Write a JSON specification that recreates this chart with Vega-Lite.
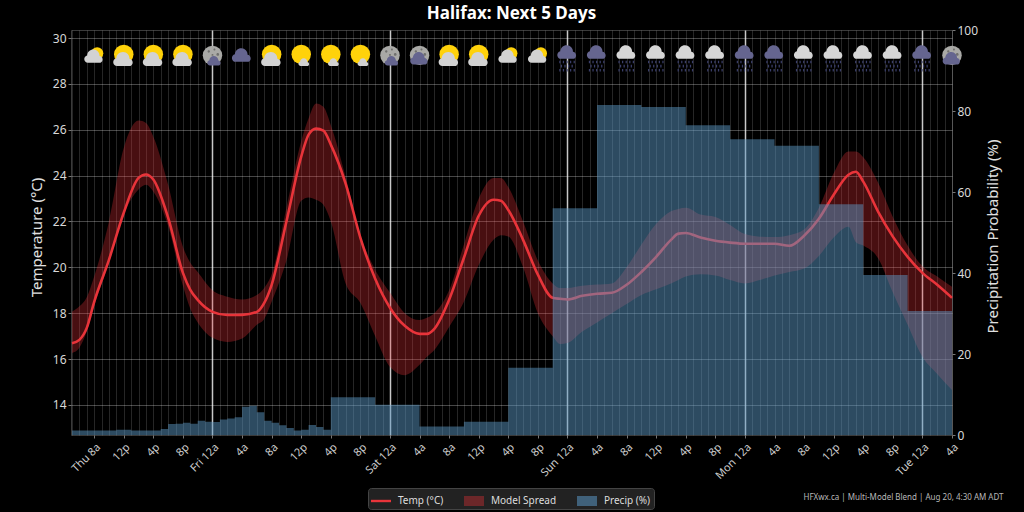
{
  "$schema": "https://vega.github.io/schema/vega-lite/v6.json",
  "title": {"text": "Halifax: Next 5 Days", "fontSize": 17, "fontWeight": "bold", "font": "Noto Sans", "color": "#ffffff", "offset": 1},
  "width": 881,
  "height": 405,
  "autosize": "none",
  "padding": {"left": 71, "right": 72, "top": 30, "bottom": 77},
  "background": "#000000",
  "datasets": {
    "temps": [
      {"time": "2025-08-21T05:00:00Z", "temp": 16.69, "lo": 16.27, "hi": 18.06},
      {"time": "2025-08-21T06:00:00Z", "temp": 16.84, "lo": 16.5, "hi": 18.3},
      {"time": "2025-08-21T07:00:00Z", "temp": 17.36, "lo": 17.2, "hi": 18.7},
      {"time": "2025-08-21T08:00:00Z", "temp": 18.5, "lo": 18.3, "hi": 19.6},
      {"time": "2025-08-21T10:00:00Z", "temp": 20.33, "lo": 20.2, "hi": 22.0},
      {"time": "2025-08-21T12:00:00Z", "temp": 22.38, "lo": 22.3, "hi": 25.2},
      {"time": "2025-08-21T14:00:00Z", "temp": 23.9, "lo": 23.4, "hi": 26.4},
      {"time": "2025-08-21T15:00:00Z", "temp": 24.05, "lo": 23.6, "hi": 26.3},
      {"time": "2025-08-21T16:00:00Z", "temp": 23.83, "lo": 23.3, "hi": 25.7},
      {"time": "2025-08-21T18:00:00Z", "temp": 22.17, "lo": 21.8, "hi": 23.6},
      {"time": "2025-08-21T20:00:00Z", "temp": 19.76, "lo": 19.2, "hi": 20.9},
      {"time": "2025-08-21T21:00:00Z", "temp": 19.02, "lo": 18.2, "hi": 20.2},
      {"time": "2025-08-21T22:00:00Z", "temp": 18.58, "lo": 17.6, "hi": 19.8},
      {"time": "2025-08-22T00:00:00Z", "temp": 18.06, "lo": 16.93, "hi": 19.0},
      {"time": "2025-08-22T02:00:00Z", "temp": 17.92, "lo": 16.75, "hi": 18.72},
      {"time": "2025-08-22T04:00:00Z", "temp": 17.93, "lo": 16.9, "hi": 18.6},
      {"time": "2025-08-22T06:00:00Z", "temp": 18.06, "lo": 17.5, "hi": 18.8},
      {"time": "2025-08-22T07:00:00Z", "temp": 18.45, "lo": 17.75, "hi": 19.1},
      {"time": "2025-08-22T08:00:00Z", "temp": 19.24, "lo": 18.5, "hi": 19.7},
      {"time": "2025-08-22T10:00:00Z", "temp": 22.0, "lo": 20.3, "hi": 22.6},
      {"time": "2025-08-22T12:00:00Z", "temp": 24.83, "lo": 22.9, "hi": 25.5},
      {"time": "2025-08-22T13:00:00Z", "temp": 25.79, "lo": 23.05, "hi": 26.5},
      {"time": "2025-08-22T14:00:00Z", "temp": 26.05, "lo": 22.95, "hi": 27.15},
      {"time": "2025-08-22T15:00:00Z", "temp": 25.96, "lo": 22.73, "hi": 27.0},
      {"time": "2025-08-22T16:00:00Z", "temp": 25.35, "lo": 22.0, "hi": 26.2},
      {"time": "2025-08-22T18:00:00Z", "temp": 23.65, "lo": 19.3, "hi": 23.95},
      {"time": "2025-08-22T20:00:00Z", "temp": 21.29, "lo": 18.45, "hi": 21.4},
      {"time": "2025-08-22T22:00:00Z", "temp": 19.5, "lo": 17.0, "hi": 19.9},
      {"time": "2025-08-23T00:00:00Z", "temp": 18.24, "lo": 15.66, "hi": 18.9},
      {"time": "2025-08-23T02:00:00Z", "temp": 17.45, "lo": 15.3, "hi": 18.0},
      {"time": "2025-08-23T04:00:00Z", "temp": 17.1, "lo": 15.75, "hi": 17.7},
      {"time": "2025-08-23T05:00:00Z", "temp": 17.1, "lo": 16.1, "hi": 17.8},
      {"time": "2025-08-23T06:00:00Z", "temp": 17.32, "lo": 16.4, "hi": 18.0},
      {"time": "2025-08-23T08:00:00Z", "temp": 18.59, "lo": 17.4, "hi": 19.0},
      {"time": "2025-08-23T10:00:00Z", "temp": 20.42, "lo": 18.5, "hi": 21.0},
      {"time": "2025-08-23T12:00:00Z", "temp": 22.25, "lo": 20.1, "hi": 23.0},
      {"time": "2025-08-23T14:00:00Z", "temp": 22.95, "lo": 21.2, "hi": 23.9},
      {"time": "2025-08-23T15:00:00Z", "temp": 22.9, "lo": 21.4, "hi": 23.9},
      {"time": "2025-08-23T16:00:00Z", "temp": 22.5, "lo": 21.35, "hi": 23.5},
      {"time": "2025-08-23T18:00:00Z", "temp": 21.2, "lo": 20.0, "hi": 22.0},
      {"time": "2025-08-23T20:00:00Z", "temp": 19.68, "lo": 18.0, "hi": 20.3},
      {"time": "2025-08-23T22:00:00Z", "temp": 18.67, "lo": 17.0, "hi": 19.3},
      {"time": "2025-08-23T23:00:00Z", "temp": 18.63, "lo": 16.66, "hi": 19.1},
      {"time": "2025-08-24T00:00:00Z", "temp": 18.6, "lo": 16.7, "hi": 19.1},
      {"time": "2025-08-24T02:00:00Z", "temp": 18.76, "lo": 17.2, "hi": 19.2},
      {"time": "2025-08-24T04:00:00Z", "temp": 18.85, "lo": 17.6, "hi": 19.25},
      {"time": "2025-08-24T06:00:00Z", "temp": 18.89, "lo": 18.0, "hi": 19.3},
      {"time": "2025-08-24T08:00:00Z", "temp": 19.24, "lo": 18.4, "hi": 20.0},
      {"time": "2025-08-24T10:00:00Z", "temp": 19.8, "lo": 18.8, "hi": 21.0},
      {"time": "2025-08-24T12:00:00Z", "temp": 20.46, "lo": 19.05, "hi": 21.9},
      {"time": "2025-08-24T14:00:00Z", "temp": 21.2, "lo": 19.3, "hi": 22.45},
      {"time": "2025-08-24T15:00:00Z", "temp": 21.47, "lo": 19.45, "hi": 22.55},
      {"time": "2025-08-24T16:00:00Z", "temp": 21.5, "lo": 19.6, "hi": 22.6},
      {"time": "2025-08-24T18:00:00Z", "temp": 21.3, "lo": 19.7, "hi": 22.3},
      {"time": "2025-08-24T20:00:00Z", "temp": 21.16, "lo": 19.65, "hi": 22.2},
      {"time": "2025-08-24T22:00:00Z", "temp": 21.08, "lo": 19.45, "hi": 21.85},
      {"time": "2025-08-25T00:00:00Z", "temp": 21.03, "lo": 19.3, "hi": 21.45},
      {"time": "2025-08-25T02:00:00Z", "temp": 21.03, "lo": 19.45, "hi": 21.34},
      {"time": "2025-08-25T04:00:00Z", "temp": 21.03, "lo": 19.65, "hi": 21.32},
      {"time": "2025-08-25T06:00:00Z", "temp": 20.94, "lo": 19.8, "hi": 21.4},
      {"time": "2025-08-25T08:00:00Z", "temp": 21.38, "lo": 19.95, "hi": 21.65},
      {"time": "2025-08-25T10:00:00Z", "temp": 22.12, "lo": 20.5, "hi": 22.6},
      {"time": "2025-08-25T12:00:00Z", "temp": 23.17, "lo": 21.3, "hi": 24.1},
      {"time": "2025-08-25T14:00:00Z", "temp": 24.04, "lo": 21.77, "hi": 25.05},
      {"time": "2025-08-25T15:00:00Z", "temp": 24.17, "lo": 21.1, "hi": 25.05},
      {"time": "2025-08-25T16:00:00Z", "temp": 23.74, "lo": 20.95, "hi": 24.8},
      {"time": "2025-08-25T18:00:00Z", "temp": 22.43, "lo": 20.4, "hi": 23.7},
      {"time": "2025-08-25T20:00:00Z", "temp": 21.34, "lo": 18.9, "hi": 22.2},
      {"time": "2025-08-25T22:00:00Z", "temp": 20.46, "lo": 17.5, "hi": 20.95},
      {"time": "2025-08-26T00:00:00Z", "temp": 19.76, "lo": 16.1, "hi": 20.05},
      {"time": "2025-08-26T02:00:00Z", "temp": 19.24, "lo": 15.35, "hi": 19.6},
      {"time": "2025-08-26T04:00:00Z", "temp": 18.67, "lo": 14.65, "hi": 19.15}
    ],
    "precip": [
      {"time": "2025-08-21T05:00:00Z", "pop": 1.1},
      {"time": "2025-08-21T11:00:00Z", "pop": 1.3},
      {"time": "2025-08-21T13:00:00Z", "pop": 1.1},
      {"time": "2025-08-21T17:00:00Z", "pop": 1.5},
      {"time": "2025-08-21T18:00:00Z", "pop": 2.7},
      {"time": "2025-08-21T19:00:00Z", "pop": 2.8},
      {"time": "2025-08-21T20:00:00Z", "pop": 3.0},
      {"time": "2025-08-21T21:00:00Z", "pop": 2.8},
      {"time": "2025-08-21T22:00:00Z", "pop": 3.5},
      {"time": "2025-08-21T23:00:00Z", "pop": 3.3},
      {"time": "2025-08-22T00:00:00Z", "pop": 3.2},
      {"time": "2025-08-22T01:00:00Z", "pop": 3.8},
      {"time": "2025-08-22T02:00:00Z", "pop": 4.1},
      {"time": "2025-08-22T03:00:00Z", "pop": 4.4},
      {"time": "2025-08-22T04:00:00Z", "pop": 7.0},
      {"time": "2025-08-22T05:00:00Z", "pop": 7.2},
      {"time": "2025-08-22T06:00:00Z", "pop": 5.6},
      {"time": "2025-08-22T07:00:00Z", "pop": 3.5},
      {"time": "2025-08-22T08:00:00Z", "pop": 3.0},
      {"time": "2025-08-22T09:00:00Z", "pop": 2.4},
      {"time": "2025-08-22T10:00:00Z", "pop": 1.7},
      {"time": "2025-08-22T11:00:00Z", "pop": 1.1},
      {"time": "2025-08-22T12:00:00Z", "pop": 1.3},
      {"time": "2025-08-22T13:00:00Z", "pop": 2.5},
      {"time": "2025-08-22T14:00:00Z", "pop": 2.0},
      {"time": "2025-08-22T15:00:00Z", "pop": 1.3},
      {"time": "2025-08-22T16:00:00Z", "pop": 9.3},
      {"time": "2025-08-22T22:00:00Z", "pop": 7.5},
      {"time": "2025-08-23T04:00:00Z", "pop": 2.1},
      {"time": "2025-08-23T10:00:00Z", "pop": 3.3},
      {"time": "2025-08-23T16:00:00Z", "pop": 16.6},
      {"time": "2025-08-23T22:00:00Z", "pop": 56},
      {"time": "2025-08-24T04:00:00Z", "pop": 81.5},
      {"time": "2025-08-24T10:00:00Z", "pop": 81},
      {"time": "2025-08-24T16:00:00Z", "pop": 76.5},
      {"time": "2025-08-24T22:00:00Z", "pop": 73},
      {"time": "2025-08-25T04:00:00Z", "pop": 71.4},
      {"time": "2025-08-25T10:00:00Z", "pop": 57},
      {"time": "2025-08-25T16:00:00Z", "pop": 39.5},
      {"time": "2025-08-25T22:00:00Z", "pop": 30.6},
      {"time": "2025-08-26T04:00:00Z", "pop": 30.6}
    ],
    "icons": [
      {"time": "2025-08-21T08:00:00Z", "icon": "cloud_sun"},
      {"time": "2025-08-21T12:00:00Z", "icon": "partly"},
      {"time": "2025-08-21T16:00:00Z", "icon": "partly"},
      {"time": "2025-08-21T20:00:00Z", "icon": "partly"},
      {"time": "2025-08-22T00:00:00Z", "icon": "moon_cloud"},
      {"time": "2025-08-22T04:00:00Z", "icon": "night_cloud"},
      {"time": "2025-08-22T08:00:00Z", "icon": "partly"},
      {"time": "2025-08-22T12:00:00Z", "icon": "mostly_sun"},
      {"time": "2025-08-22T16:00:00Z", "icon": "mostly_sun"},
      {"time": "2025-08-22T20:00:00Z", "icon": "mostly_sun"},
      {"time": "2025-08-23T00:00:00Z", "icon": "moon_cloud"},
      {"time": "2025-08-23T04:00:00Z", "icon": "moon_heavy"},
      {"time": "2025-08-23T08:00:00Z", "icon": "partly"},
      {"time": "2025-08-23T12:00:00Z", "icon": "partly"},
      {"time": "2025-08-23T16:00:00Z", "icon": "cloud_sun"},
      {"time": "2025-08-23T20:00:00Z", "icon": "cloud_sun"},
      {"time": "2025-08-24T00:00:00Z", "icon": "rain_night"},
      {"time": "2025-08-24T04:00:00Z", "icon": "rain_night"},
      {"time": "2025-08-24T08:00:00Z", "icon": "rain"},
      {"time": "2025-08-24T12:00:00Z", "icon": "rain"},
      {"time": "2025-08-24T16:00:00Z", "icon": "rain"},
      {"time": "2025-08-24T20:00:00Z", "icon": "rain"},
      {"time": "2025-08-25T00:00:00Z", "icon": "rain_night"},
      {"time": "2025-08-25T04:00:00Z", "icon": "rain_night"},
      {"time": "2025-08-25T08:00:00Z", "icon": "rain"},
      {"time": "2025-08-25T12:00:00Z", "icon": "rain"},
      {"time": "2025-08-25T16:00:00Z", "icon": "rain"},
      {"time": "2025-08-25T20:00:00Z", "icon": "rain"},
      {"time": "2025-08-26T00:00:00Z", "icon": "rain_night"},
      {"time": "2025-08-26T04:00:00Z", "icon": "moon_heavy"}
    ]
  },
  "resolve": {
    "scale": {"y": "independent"},
    "axis": {"x": "independent", "y": "independent"}
  },
  "layer": [
    {
      "data": {"name": "temps"},
      "mark": {"type": "area", "interpolate": "monotone", "opacity": 0.3},
      "encoding": {
        "x": {
          "field": "time",
          "type": "temporal",
          "scale": {"type": "utc", "domain": [1755751920000, 1756180800000]},
          "axis": {
            "orient": "bottom",
            "grid": true, "gridColor": "#ffffff", "gridOpacity": 0.15, "gridWidth": 1,
            "tickCount": 120,
            "labels": false, "ticks": false, "domain": false, "title": null
          }
        },
        "y": {
          "field": "lo",
          "type": "quantitative",
          "scale": {"domain": [12.69, 30.35], "nice": false, "zero": false},
          "axis": {
            "orient": "left",
            "values": [14, 16, 18, 20, 22, 24, 26, 28, 30],
            "grid": true, "gridColor": "#ffffff", "gridOpacity": 0.28,
            "domain": false, "tickColor": "#777777", "tickSize": 3,
            "labelColor": "#d8d8d8", "labelFontSize": 12, "labelFont": "Noto Sans", "labelPadding": 2,
            "title": "Temperature (°C)", "titleColor": "#e0e0e0", "titleFontSize": 15,
            "titleFontWeight": "normal", "titleFont": "Noto Sans", "titlePadding": 8, "titleY": 207
          }
        },
        "y2": {"field": "hi"},
        "color": {
          "datum": "Model Spread",
          "type": "nominal",
          "scale": {
            "domain": ["Temp (°C)", "Model Spread", "Precip (%)"],
            "range": ["#e8343a", "#f03237", "#5a96c2"]
          },
          "legend": {
            "title": null,
            "orient": "none",
            "legendX": 297,
            "legendY": 458,
            "direction": "horizontal",
            "columns": 3,
            "columnPadding": 20,
            "fillColor": "#222222",
            "strokeColor": "#444444",
            "cornerRadius": 3,
            "padding": 3,
            "labelColor": "#dddddd",
            "labelFontSize": 10,
            "labelFont": "Noto Sans",
            "labelOffset": 7,
            "symbolSize": 400,
            "symbolStrokeWidth": 0,
            "symbolOpacity": 1,
            "symbolType": "M-1,-0.5H1V0.5H-1Z",
            "encoding": {
              "symbols": {
                "shape": {"condition": {"test": "datum.value == 'Temp (°C)'", "value": "M-1,-0.12H1V0.12H-1Z"}, "value": "M-1,-0.5H1V0.5H-1Z"},
                "fillOpacity": {"condition": [{"test": "datum.value == 'Temp (°C)'", "value": 1}, {"test": "datum.value == 'Model Spread'", "value": 0.36}], "value": 0.55}
              }
            }
          }
        }
      }
    },
    {
      "data": {"name": "temps"},
      "mark": {"type": "line", "interpolate": "monotone", "strokeWidth": 2.6},
      "encoding": {
        "x": {
          "field": "time",
          "type": "temporal",
          "axis": {
            "orient": "bottom",
            "grid": true, "gridColor": "#c8c8c8", "gridOpacity": 1, "gridWidth": 1.5,
            "tickCount": "day",
            "labels": false, "ticks": false, "domain": false, "title": null
          }
        },
        "y": {
          "field": "temp",
          "type": "quantitative",
          "scale": {"domain": [12.69, 30.35], "nice": false, "zero": false},
          "axis": null
        },
        "color": {"datum": "Temp (°C)", "type": "nominal"}
      }
    },
    {
      "data": {"name": "precip"},
      "mark": {"type": "area", "interpolate": "step-after", "opacity": 0.5},
      "encoding": {
        "x": {
          "field": "time",
          "type": "temporal",
          "axis": {
            "orient": "bottom",
            "grid": false,
            "values": [1755763200000, 1755777600000, 1755792000000, 1755806400000, 1755820800000, 1755835200000, 1755849600000, 1755864000000, 1755878400000, 1755892800000, 1755907200000, 1755921600000, 1755936000000, 1755950400000, 1755964800000, 1755979200000, 1755993600000, 1756008000000, 1756022400000, 1756036800000, 1756051200000, 1756065600000, 1756080000000, 1756094400000, 1756108800000, 1756123200000, 1756137600000, 1756152000000, 1756166400000, 1756180800000],
            "labelExpr": "(utchours(datum.value) == 0 || datum.index == 0 ? utcFormat(datum.value, '%a ') : '') + utcFormat(datum.value, '%-I') + (utchours(datum.value) < 12 ? 'a' : 'p')",
            "labelAngle": -45, "labelAlign": "right", "labelBaseline": "top", "labelOverlap": false,
            "labelColor": "#cccccc", "labelFontSize": 11, "labelFont": "Noto Sans", "labelPadding": 3,
            "domain": false, "tickColor": "#777777", "tickSize": 3,
            "title": "HFXwx.ca | Multi-Model Blend | Aug 20, 4:30 AM ADT",
            "titleX": 932, "titleY": 62, "titleAlign": "right", "titleBaseline": "middle",
            "titleColor": "#b8b8b8", "titleFontSize": 8, "titleFontWeight": "normal", "titleFont": "Noto Sans"
          }
        },
        "y": {
          "field": "pop",
          "type": "quantitative",
          "scale": {"domain": [0, 100], "nice": false},
          "axis": {
            "orient": "right",
            "values": [0, 20, 40, 60, 80, 100],
            "grid": false, "domain": false, "tickColor": "#777777", "tickSize": 3,
            "labelColor": "#d8d8d8", "labelFontSize": 12, "labelFont": "Noto Sans", "labelPadding": 2,
            "title": "Precipitation Probability (%)", "titleColor": "#e0e0e0", "titleFontSize": 15,
            "titleFontWeight": "normal", "titleFont": "Noto Sans", "titlePadding": 8,
            "titleAngle": 270, "titleY": 206, "titleBaseline": "top"
          }
        },
        "color": {"datum": "Precip (%)", "type": "nominal"}
      }
    },
    {
      "data": {"name": "icons"},
      "encoding": {
        "x": {"field": "time", "type": "temporal", "axis": null},
        "y": {
          "datum": 29.2,
          "type": "quantitative",
          "scale": {"domain": [12.69, 30.35], "nice": false, "zero": false},
          "axis": null
        }
      },
      "layer": [
        {
          "transform": [{"filter": {"field": "icon", "oneOf": ["partly", "mostly_sun"]}}],
          "mark": {"type": "point", "shape": "circle", "filled": true, "opacity": 1, "color": "#ffd20a", "size": 380, "yOffset": -2}
        },
        {
          "transform": [{"filter": {"field": "icon", "oneOf": ["cloud_sun"]}}],
          "mark": {"type": "point", "shape": "circle", "filled": true, "opacity": 1, "color": "#ffd20a", "size": 150, "xOffset": 3, "yOffset": -3}
        },
        {
          "transform": [{"filter": {"field": "icon", "oneOf": ["moon_cloud", "moon_heavy"]}}],
          "mark": {"type": "point", "shape": "circle", "filled": true, "opacity": 1, "color": "#a9a9a6", "size": 380, "yOffset": -1}
        },
        {
          "transform": [{"filter": {"field": "icon", "oneOf": ["moon_cloud", "moon_heavy"]}}],
          "mark": {"type": "point", "shape": "M-0.5,-0.4A0.12,0.12 0 1 1 -0.26,-0.4A0.12,0.12 0 1 1 -0.5,-0.4ZM0.1,-0.6A0.1,0.1 0 1 1 0.3,-0.6A0.1,0.1 0 1 1 0.1,-0.6ZM0.4,-0.1A0.14,0.14 0 1 1 0.68,-0.1A0.14,0.14 0 1 1 0.4,-0.1ZM-0.1,-0.05A0.1,0.1 0 1 1 0.1,-0.05A0.1,0.1 0 1 1 -0.1,-0.05Z", "filled": true, "opacity": 1, "color": "#70706e", "size": 380, "yOffset": -1}
        },
        {
          "transform": [{"filter": {"field": "icon", "oneOf": ["partly"]}}],
          "mark": {"type": "point", "shape": "M-0.65,0.45A0.38,0.38 0 0 1 -0.72,-0.3A0.5,0.5 0 0 1 0.55,-0.25A0.37,0.37 0 0 1 0.65,0.45Z", "filled": true, "opacity": 1, "color": "#d2d2d2", "size": 430, "yOffset": 5}
        },
        {
          "transform": [{"filter": {"field": "icon", "oneOf": ["mostly_sun"]}}],
          "mark": {"type": "point", "shape": "M-0.65,0.45A0.38,0.38 0 0 1 -0.72,-0.3A0.5,0.5 0 0 1 0.55,-0.25A0.37,0.37 0 0 1 0.65,0.45Z", "filled": true, "opacity": 1, "color": "#d2d2d2", "size": 130, "xOffset": 3, "yOffset": 7}
        },
        {
          "transform": [{"filter": {"field": "icon", "oneOf": ["cloud_sun"]}}],
          "mark": {"type": "point", "shape": "M-0.65,0.45A0.38,0.38 0 0 1 -0.72,-0.3A0.5,0.5 0 0 1 0.55,-0.25A0.37,0.37 0 0 1 0.65,0.45Z", "filled": true, "opacity": 1, "color": "#d2d2d2", "size": 380, "yOffset": 2}
        },
        {
          "transform": [{"filter": {"field": "icon", "oneOf": ["moon_cloud"]}}],
          "mark": {"type": "point", "shape": "M-0.65,0.45A0.38,0.38 0 0 1 -0.72,-0.3A0.5,0.5 0 0 1 0.55,-0.25A0.37,0.37 0 0 1 0.65,0.45Z", "filled": true, "opacity": 1, "color": "#65658f", "size": 200, "xOffset": 2, "yOffset": 6}
        },
        {
          "transform": [{"filter": {"field": "icon", "oneOf": ["moon_heavy"]}}],
          "mark": {"type": "point", "shape": "M-0.65,0.45A0.38,0.38 0 0 1 -0.72,-0.3A0.5,0.5 0 0 1 0.55,-0.25A0.37,0.37 0 0 1 0.65,0.45Z", "filled": true, "opacity": 1, "color": "#65658f", "size": 340, "yOffset": 4}
        },
        {
          "transform": [{"filter": {"field": "icon", "oneOf": ["night_cloud"]}}],
          "mark": {"type": "point", "shape": "M-0.65,0.45A0.38,0.38 0 0 1 -0.72,-0.3A0.5,0.5 0 0 1 0.55,-0.25A0.37,0.37 0 0 1 0.65,0.45Z", "filled": true, "opacity": 1, "color": "#65658f", "size": 400, "yOffset": 1}
        },
        {
          "transform": [{"filter": {"field": "icon", "oneOf": ["rain_night"]}}],
          "mark": {"type": "point", "shape": "M-0.65,0.45A0.38,0.38 0 0 1 -0.72,-0.3A0.5,0.5 0 0 1 0.55,-0.25A0.37,0.37 0 0 1 0.65,0.45Z", "filled": true, "opacity": 1, "color": "#65658f", "size": 400, "yOffset": -2}
        },
        {
          "transform": [{"filter": {"field": "icon", "oneOf": ["rain"]}}],
          "mark": {"type": "point", "shape": "M-0.65,0.45A0.38,0.38 0 0 1 -0.72,-0.3A0.5,0.5 0 0 1 0.55,-0.25A0.37,0.37 0 0 1 0.65,0.45Z", "filled": true, "opacity": 1, "color": "#d6d6d6", "size": 400, "yOffset": -2}
        },
        {
          "transform": [{"filter": {"field": "icon", "oneOf": ["rain", "rain_night"]}}],
          "mark": {"type": "point", "shape": "M-0.8,-0.45H-0.68V-0.2H-0.8ZM-0.45,-0.45H-0.33V-0.2H-0.45ZM-0.1,-0.45H0.02V-0.2H-0.1ZM0.25,-0.45H0.37V-0.2H0.25ZM0.6,-0.45H0.72V-0.2H0.6ZM-0.65,-0.05H-0.53V0.2H-0.65ZM-0.3,-0.05H-0.18V0.2H-0.3ZM0.05,-0.05H0.17V0.2H0.05ZM0.4,-0.05H0.52V0.2H0.4ZM-0.8,0.35H-0.68V0.6H-0.8ZM-0.45,0.35H-0.33V0.6H-0.45ZM-0.1,0.35H0.02V0.6H-0.1ZM0.25,0.35H0.37V0.6H0.25ZM0.6,0.35H0.72V0.6H0.6Z", "filled": true, "opacity": 1, "color": "#3b3f6b", "size": 420, "yOffset": 9}
        }
      ]
    }
  ],
  "config": {
    "view": {"stroke": "#3a3a3a"},
    "font": "Noto Sans"
  }
}
